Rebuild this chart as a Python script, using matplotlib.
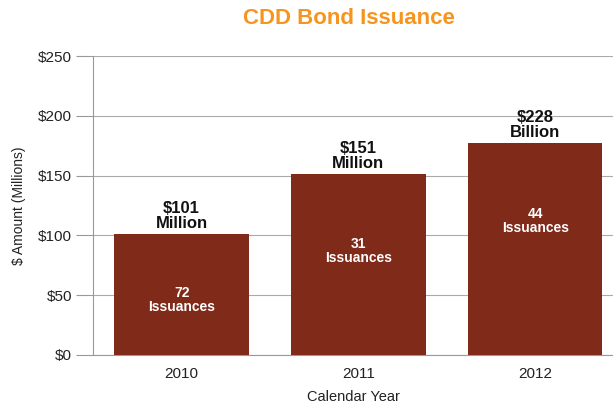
import matplotlib
matplotlib.use("Agg")
import matplotlib.pyplot as plt

years = ["2010", "2011", "2012"]
amounts = [101, 151, 177]
top_labels = ["$101\nMillion", "$151\nMillion", "$228\nBillion"]
inner_labels = ["72\nIssuances", "31\nIssuances", "44\nIssuances"]
inner_pos = [46, 87, 112]
yticks = [0, 50, 100, 150, 200, 250]

plt.rcParams['font.family'] = ['Liberation Sans', 'DejaVu Sans']

fig = plt.figure(figsize=(6.13, 4.07), dpi=100)
ax = fig.add_axes([0.152, 0.128, 0.848, 0.734])

x = list(range(len(years)))
bar_color = '#802a19'
ax.bar(x, amounts, width=0.76, color=bar_color, zorder=3)

ax.set_xlim(-0.5, 2.44)
ax.set_ylim(0, 250)
ax.set_yticks(yticks)
ax.set_yticklabels([f"${v}" for v in yticks], fontsize=11, color='#222222')
ax.set_xticks(x)
ax.set_xticklabels(years, fontsize=11, color='#222222')
ax.tick_params(axis='y', length=12, color='#999999', width=0.8, pad=3)
ax.tick_params(axis='x', length=0, pad=9)
ax.yaxis.grid(True, color='#aaaaaa', linewidth=0.8, zorder=0)
ax.set_axisbelow(True)
for s in ['top', 'right']:
    ax.spines[s].set_visible(False)
ax.spines['left'].set_color('#999999')
ax.spines['bottom'].set_color('#999999')
ax.spines['left'].set_linewidth(0.8)
ax.spines['bottom'].set_linewidth(0.8)

for xi, v, t in zip(x, amounts, top_labels):
    ax.text(xi, v + 3, t, ha='center', va='bottom', fontsize=12,
            fontweight='bold', color='#111111', linespacing=1.0, zorder=4)
for xi, p, t in zip(x, inner_pos, inner_labels):
    ax.text(xi, p, t, ha='center', va='center', fontsize=10,
            fontweight='bold', color='white', linespacing=1.05, zorder=4)

ax.set_xlabel("Calendar Year", fontsize=10.5, color='#222222', labelpad=6)
ax.set_ylabel("$ Amount (Millions)", fontsize=10, color='#222222', labelpad=9)
fig.text(0.57, 0.955, "CDD Bond Issuance", ha='center', va='center',
         fontsize=16, fontweight='bold', color='#f7941d')

fig.savefig("out.png", dpi=100)
